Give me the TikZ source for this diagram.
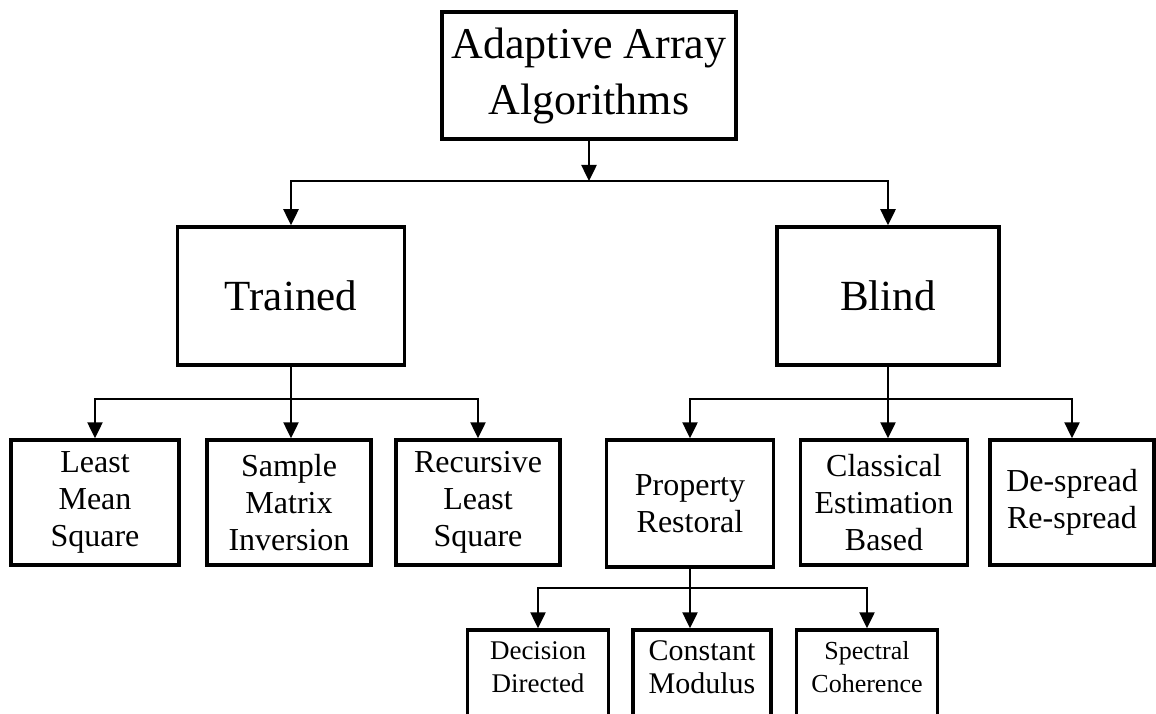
\documentclass[tikz,border=0pt]{standalone}
\usepackage{fontspec}
\setmainfont{Liberation Serif}
\usetikzlibrary{arrows.meta}
\begin{document}
\begin{tikzpicture}[x=1pt,y=-1pt,
  box/.style={draw, line width=3.5pt, rectangle, align=center, inner sep=0pt},
  topbox/.style={box, minimum width=294pt, minimum height=127pt,
    font=\fontsize{44}{56}\selectfont},
  midbox/.style={box, minimum height=138pt, font=\fontsize{43}{50}\selectfont},
  leafbox/.style={box, minimum height=125pt, font=\fontsize{32}{37}\selectfont},
  subbox/.style={box, minimum height=120pt},
  conn/.style={line width=2.5pt},
  arr/.style={conn, -{Triangle[length=16pt,width=15pt]}},
]
\useasboundingbox (0,0) rectangle (1156,714);

% root
\node[topbox] (root) at (589,75.5) {Adaptive Array\\Algorithms};

% first level
\node[midbox, minimum width=227pt] (trained) at (291,296) {Trained};
\node[midbox, minimum width=222pt] (blind) at (888,296) {Blind};

% second level
\node[leafbox, minimum width=168pt] (lms) at (95,502.5) {Least\\Mean\\Square};
\node[leafbox, minimum width=164pt] (smi) at (289,502.5) {Sample\\Matrix\\Inversion};
\node[leafbox, minimum width=164pt] (rls) at (478,502.5) {Recursive\\Least\\Square};
\node[leafbox, minimum width=167pt, minimum height=127pt] (prop) at (690,503.5) {Property\\Restoral};
\node[leafbox, minimum width=167pt] (cls) at (884,502.5) {Classical\\Estimation\\Based};
\node[leafbox, minimum width=164pt] (desp) at (1072,502.5) {De-spread\\Re-spread};

% third level (boxes run past the lower edge)
\node[subbox, minimum width=141pt] (dd) at (538,690) {};
\node[subbox, minimum width=138pt] (cm) at (702,690) {};
\node[subbox, minimum width=141pt] (sc) at (867,690) {};
\node[font=\fontsize{27}{33}\selectfont, align=center] (ddt) at ([yshift=-38.5pt]dd.north) {Decision\\Directed};
\node[font=\fontsize{30}{33}\selectfont, align=center] (cmt) at ([yshift=-38.5pt]cm.north) {Constant\\Modulus};
\node[font=\fontsize{26}{33}\selectfont, align=center] (sct) at ([yshift=-38.5pt]sc.north) {Spectral\\Coherence};

% junctions
\coordinate (j1) at (589,181);
\coordinate (j2) at (291,399);
\coordinate (j3) at (888,399);
\coordinate (j4) at (690,588);

% root -> first level
\draw[arr] (root.south) -- (j1);
\draw[arr] (j1) -| (trained.north);
\draw[arr] (j1) -| (blind.north);

% trained -> algorithms
\draw[conn] (trained.south) -- (j2);
\draw[arr] (j2) -| (lms.north);
\draw[arr] (j2) -- (j2 |- smi.north);
\draw[arr] (j2) -| (rls.north);

% blind -> algorithms
\draw[conn] (blind.south) -- (j3);
\draw[arr] (j3) -| (prop.north);
\draw[arr] (j3) -- (j3 |- cls.north);
\draw[arr] (j3) -| (desp.north);

% property restoral -> methods
\draw[conn] (prop.south) -- (j4);
\draw[arr] (j4) -| (dd.north);
\draw[arr] (j4) -- (j4 |- cm.north);
\draw[arr] (j4) -| (sc.north);
\end{tikzpicture}
\end{document}
